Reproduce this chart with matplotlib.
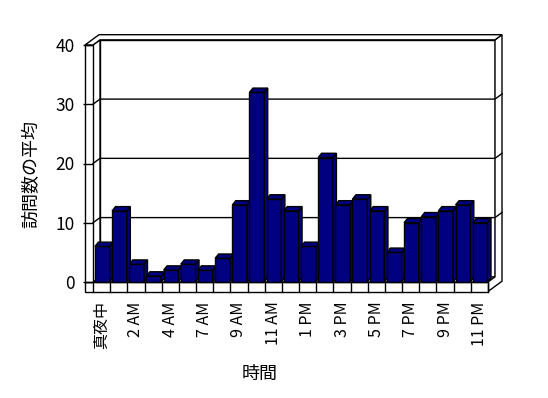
import matplotlib
matplotlib.use("Agg")
import matplotlib.pyplot as plt
from matplotlib.patches import Polygon

# =========================================
# DATA — average visits per hour (5 AM has no entry)
# =========================================
hours = [
    "真夜中", "1 AM", "2 AM", "3 AM", "4 AM", "6 AM", "7 AM", "8 AM",
    "9 AM", "10 AM", "11 AM", "正午", "1 PM", "2 PM", "3 PM", "4 PM",
    "5 PM", "6 PM", "7 PM", "8 PM", "9 PM", "10 PM", "11 PM",
]
visits = [6, 12, 3, 1, 2, 3, 2, 4, 13, 32, 14, 12,
          6, 21, 13, 14, 12, 5, 10, 11, 12, 13, 10]
y_ticks = [0, 10, 20, 30, 40]

plt.rcParams["font.family"] = ["Noto Sans CJK JP", "DejaVu Sans"]

# =========================================
# FIGURE / FRONT PLANE
# =========================================
W, H = 548, 398
LEFT, RIGHT, TOP, BOTTOM = 93, 488, 45, 282   # front plane in pixels

fig = plt.figure(figsize=(W / 100, H / 100), dpi=100)
ax = fig.add_axes([LEFT / W, 1 - BOTTOM / H, (RIGHT - LEFT) / W, (BOTTOM - TOP) / H])

n = len(visits)
ymax = y_ticks[-1]
x0, x1 = -0.5, n - 0.5
ax.set_xlim(x0, x1)
ax.set_ylim(0, ymax)
for s in ax.spines.values():
    s.set_visible(False)

# pixel -> data unit scale
sx = (RIGHT - LEFT) / n
sy = (BOTTOM - TOP) / ymax

DX, DY = 14 / sx, 10.3 / sy     # full depth offset
ZB = 0.5                        # back wall front face
TX = 8 / sx                     # left wall thickness
FH = 9.5 / sy                   # floor thickness
BDX, BDY = 3.5 / sx, 4.3 / sy   # bar depth


def p(x, y, z=0.0):
    return (x + z * DX, y + z * DY)


def face(pts, z=1, fc="white"):
    ax.add_patch(Polygon(pts, closed=True, fc=fc, ec="black", lw=1,
                         zorder=z, clip_on=False, joinstyle="miter"))


# ── walls and floor ──
face([p(x0, 0, ZB), p(x1, 0, ZB), p(x1, ymax, ZB), p(x0, ymax, ZB)])
face([p(x0, 0), p(x1, 0), p(x1, 0, ZB), p(x0, 0, ZB)])
face([p(x0, 0), p(x0, 0, ZB), p(x0, ymax, ZB), p(x0, ymax)])
face([p(x1, -FH), p(x1, 0), p(x1, 0, ZB), p(x1, ymax, ZB),
      p(x1, ymax, 1), p(x1, -FH, 1)])
face([p(x0 - TX, -FH), p(x1, -FH), p(x1, 0), p(x0 - TX, 0)], z=1.5)
face([p(x0 - TX, 0), p(x0, 0), p(x0, ymax), p(x0 - TX, ymax)], z=1.5)
face([p(x0 - TX, ymax), p(x0, ymax), p(x0, ymax, ZB), p(x1, ymax, ZB),
      p(x1, ymax, 1), p(x0 - TX, ymax, 1)], z=1.5)

# category dividers on the floor front
for k in range(n + 1):
    ax.plot([x0 + k, x0 + k], [-FH, 0], color="black", lw=1,
            clip_on=False, zorder=1.6)

# gridlines wrapping the walls
for yv in y_ticks[1:-1]:
    pts = [p(x0, yv), p(x0, yv, ZB), p(x1, yv, ZB), p(x1, yv, 1)]
    ax.plot([q[0] for q in pts], [q[1] for q in pts], color="black",
            lw=1, clip_on=False, zorder=2)

# ── bars ──
for i, v in enumerate(visits):
    bl, br = i - 0.5 + 0.11, i - 0.5 + 0.97
    zz = 3 + i * 0.01
    face([(bl, 0), (br, 0), (br, v), (bl, v)], z=zz, fc="#000080")
    face([(br, 0), (br + BDX, BDY), (br + BDX, v + BDY), (br, v)], z=zz, fc="#000080")
    face([(bl, v), (br, v), (br + BDX, v + BDY), (bl + BDX, v + BDY)], z=zz, fc="#000080")

# ── ticks and labels ──
ax.set_yticks(y_ticks)
ax.tick_params(axis="y", length=7.2, width=1, pad=6, labelsize=12.5)
ax.set_xticks(range(0, n, 2))
ax.set_xticklabels(hours[::2], rotation=90)
ax.tick_params(axis="x", length=0, pad=14, labelsize=11.5)

ax.set_xlabel("時間", fontsize=13)
ax.xaxis.set_label_coords((260 - LEFT) / (RIGHT - LEFT), (BOTTOM - 365) / (BOTTOM - TOP))
ax.set_ylabel("訪問数の平均", fontsize=13)
ax.yaxis.set_label_coords((40 - LEFT) / (RIGHT - LEFT), (BOTTOM - 174) / (BOTTOM - TOP))

fig.savefig("out.png", dpi=100)
